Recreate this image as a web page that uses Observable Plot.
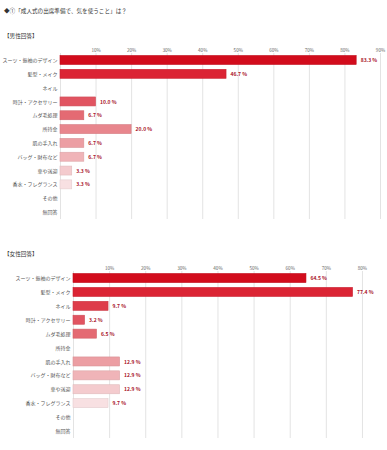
<!DOCTYPE html>
<html>
<head>
<meta charset="utf-8">
<script src="https://cdn.jsdelivr.net/npm/d3@7"></script>
<script src="https://cdn.jsdelivr.net/npm/@observablehq/plot@0.6"></script>
<style>
  html, body { margin: 0; padding: 0; background: #fff; width: 387px; height: 450px; overflow: hidden; }
  body { position: relative; font-family: "Noto Sans CJK JP", "Noto Sans", sans-serif; }
  .t { position: absolute; left: 4px; color: #333; white-space: nowrap; font-size: 5.6px; line-height: 1; }
  .chart { position: absolute; left: 0; }
  .chart svg { display: block; font-family: "Noto Sans CJK JP", "Noto Sans", sans-serif; }
</style>
</head>
<body>
<div class="t" style="top:9px">◆①「成人式の出席準備で、気を使うこと」は？</div>
<div class="t" style="top:34px">【男性回答】</div>
<div class="chart" id="male" style="top:42px"></div>
<div class="t" style="top:252px">【女性回答】</div>
<div class="chart" id="female" style="top:261px"></div>
<script>
const categories = [
  "スーツ・振袖のデザイン", "髪型・メイク", "ネイル", "時計・アクセサリー", "ムダ毛処理",
  "所持金", "肌の手入れ", "バッグ・財布など", "車や送迎", "香水・フレグランス", "その他", "無回答"
];
const maleValues   = [83.3, 46.7, 0, 10.0, 6.7, 20.0, 6.7, 6.7, 3.3, 3.3, 0, 0];
const femaleValues = [64.5, 77.4, 9.7, 3.2, 6.5, 0, 12.9, 12.9, 12.9, 9.7, 0, 0];
const rowColors = ["#d20c1c", "#db2434", "#de3c4a", "#e15461", "#e46a73", "#e8868d",
                   "#ec9ea3", "#f0b4b8", "#f4cbce", "#f8e0e2", "#f8e0e2", "#f8e0e2"];
const maleTicks = [10, 20, 30, 40, 50, 60, 70, 80, 90];
const femaleTicks = [10, 20, 30, 40, 50, 60, 70, 80];

function chart(values, xMax, ticks, marginLeft, marginTop) {
  const data = categories.map((c, i) => ({cat: c, value: values[i], color: rowColors[i]}));
  return Plot.plot({
    width: 387,
    height: 179,
    marginLeft,
    marginRight: 7,
    marginTop,
    marginBottom: 2,
    style: {background: "#fff"},
    x: {domain: [0, xMax], label: null},
    y: {domain: categories, paddingInner: 0.35, paddingOuter: 0.18, round: false, label: null},
    color: {type: "identity"},
    marks: [
      Plot.ruleX([0, ...ticks], {stroke: "#e3e3e3", strokeWidth: 1}),
      Plot.axisX(ticks, {anchor: "top", label: null, tickSize: 0, tickPadding: 2, tickFormat: d => d + "%", fontSize: 4.6, fill: "#666"}),
      Plot.axisY({anchor: "left", label: null, tickSize: 0, tickPadding: 3, fontSize: 5, fill: "#555"}),
      Plot.barX(data.filter(d => d.value > 0), {
        x: "value", y: "cat", fill: "color",
        stroke: d => d3.color(d.color).darker(0.25).formatHex(), strokeWidth: 0.6
      }),
      Plot.text(data.filter(d => d.value > 0), {
        x: "value", y: "cat", text: d => d.value.toFixed(1) + " %",
        textAnchor: "start", dx: 4, fontSize: 5, fontWeight: "bold", fill: "#a8111f"
      })
    ]
  });
}

document.getElementById("male").appendChild(chart(maleValues, 90, maleTicks, 60, 11));
document.getElementById("female").appendChild(chart(femaleValues, 85, femaleTicks, 73, 10));
</script>
</body>
</html>
